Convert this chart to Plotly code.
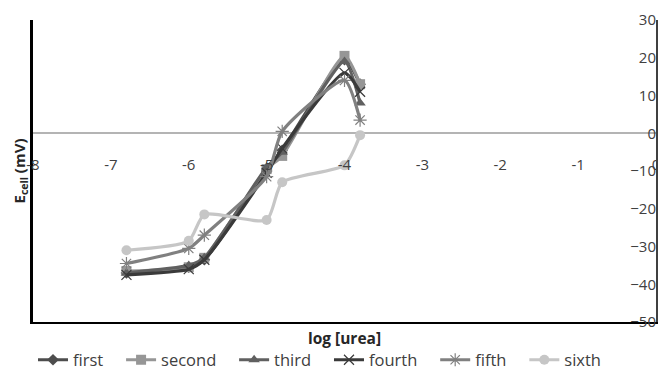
import plotly.graph_objects as go

log_urea = [-6.8, -6.0, -5.8, -5.0, -4.8, -4.0, -3.8]
first = [-37.0, -35.5, -33.5, -10.0, -4.5, 19.5, 13.0]
second = [-36.5, -35.5, -33.0, -9.5, -6.0, 20.5, 13.0]
third = [-37.0, -35.0, -33.0, -9.0, -5.0, 19.0, 8.0]
fourth = [-37.5, -36.0, -33.5, -10.5, -4.0, 16.0, 11.0]
fifth = [-34.5, -30.5, -27.0, -11.5, 0.5, 14.0, 3.5]
sixth = [-31.0, -28.5, -21.5, -23.0, -13.0, -8.5, -0.5]

x_ticks = [-8, -7, -6, -5, -4, -3, -2, -1, 0]
y_ticks = [-50, -40, -30, -20, -10, 0, 10, 20, 30]

FONT = "Open Sans"
PAD = "\u00a0\u00a0\u00a0"

series = [
    ("first", first, "#4d4d4d", "diamond", 9),
    ("second", second, "#969696", "square", 10),
    ("third", third, "#606060", "triangle-up", 10),
    ("fourth", fourth, "#3a3a3a", "x-thin-open", 10),
    ("fifth", fifth, "#808080", "asterisk-open", 11),
    ("sixth", sixth, "#c6c6c6", "circle", 10),
]

fig = go.Figure()
for name, ys, color, sym, size in series:
    mk = dict(symbol=sym, size=size, color=color)
    if sym.endswith("-open"):
        mk["line"] = dict(color="#a8a8a8" if name == "fourth" else "#b0b0b0", width=1.2)
    fig.add_trace(go.Scatter(
        x=log_urea, y=ys, name=name + PAD, mode="lines+markers",
        line=dict(color=color, width=3.2, shape="spline", smoothing=0.6),
        marker=mk,
    ))

# invisible trace to activate left axis and tick-label axis
fig.add_trace(go.Scatter(x=[None], y=[None], yaxis="y2", xaxis="x2", showlegend=False))

fig.update_layout(
    width=658, height=370,
    margin=dict(l=33, r=2, t=20, b=48, autoexpand=False),
    paper_bgcolor="white", plot_bgcolor="white",
    font=dict(family=FONT, size=15, color="#404040"),
    showlegend=True,
    legend=dict(orientation="h", x=0.0, xanchor="left", y=-0.068, yanchor="top",
                font=dict(size=16.5, color="#404040"),
                tracegroupgap=0, traceorder="normal"),
    xaxis=dict(range=[-8, 0], tickvals=x_ticks, showticklabels=False, ticks="",
               showgrid=False, zeroline=False, showline=True, linecolor="black",
               linewidth=2, title=dict(text="<b>log [urea]</b>", standoff=10,
                                       font=dict(size=15.5, color="#262626"))),
    xaxis2=dict(range=[-8, 0], overlaying="x", anchor="free", position=0.555,
                tickvals=x_ticks, ticktext=[str(v) for v in x_ticks], side="bottom",
                showgrid=False, zeroline=False, showline=False, ticks="",
                ticklabeloverflow="allow",
                tickfont=dict(size=15, color="#404040")),
    yaxis=dict(range=[-50, 30], tickvals=y_ticks, side="right",
               ticklabelposition="inside", ticklabeloverflow="allow",
               showgrid=False, zeroline=True,
               zerolinecolor="#b4b4b4", zerolinewidth=1.5, showline=True,
               linecolor="#404040", linewidth=2, ticks="",
               tickfont=dict(size=15, color="#404040")),
    yaxis2=dict(range=[-50, 30], overlaying="y", side="left", showticklabels=False,
                showgrid=False, zeroline=False, showline=True, linecolor="black",
                linewidth=2.5, ticks="",
                title=dict(text="<b>E<sub>cell</sub> (mV)</b>", standoff=2,
                           font=dict(size=15, color="#262626"))),
)

fig.write_html("out.html")
